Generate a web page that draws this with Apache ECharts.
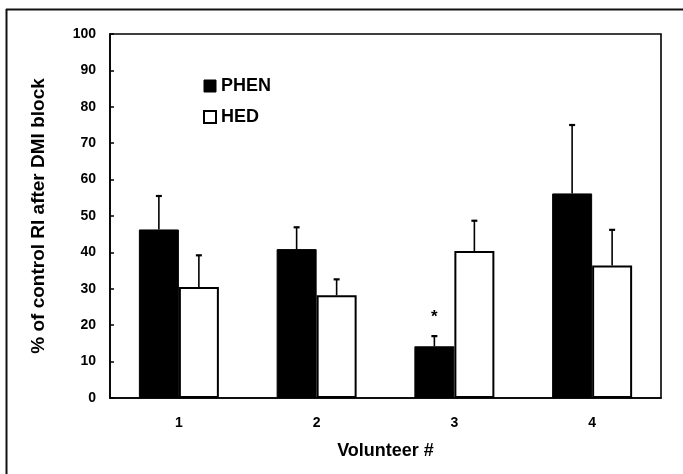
<!DOCTYPE html>
<html>
<head>
<meta charset="utf-8">
<script src="https://cdn.jsdelivr.net/npm/echarts@6/dist/echarts.min.js"></script>
<style>
html,body{margin:0;padding:0;background:#fff;}
#chart{width:683px;height:474px;}
</style>
</head>
<body>
<div id="chart"></div>
<script>
// ---- data ----
const categories = ['1', '2', '3', '4'];
const phenMean = [46.3, 40.9, 14.2, 56.2];
const phenSD   = [9.2, 6.0, 2.8, 18.8];
const hedMean  = [30.5, 28.2, 40.4, 36.4];
const hedSD    = [8.7, 4.4, 8.3, 9.8];
const yTicks   = [0, 10, 20, 30, 40, 50, 60, 70, 80, 90, 100];
// significance marker: category index, value position, text
const starCat = 2;
const starValue = 23;
const starText = '*';

const FONT = '"Liberation Sans", Arial, Helvetica, sans-serif';
const BAR_W = 40;

function errRender(sign) {
  return function (params, api) {
    const i = api.value(0), v = api.value(1), sd = api.value(2);
    const base = api.coord([i, v]);
    const top = api.coord([i, v + sd]);
    const x = base[0] + sign * BAR_W / 2;
    return {
      type: 'group',
      children: [
        { type: 'line', shape: { x1: x, y1: base[1], x2: x, y2: top[1] }, style: { stroke: '#000', lineWidth: 1.6 } },
        { type: 'line', shape: { x1: x - 3, y1: top[1], x2: x + 3, y2: top[1] }, style: { stroke: '#000', lineWidth: 2.2 } }
      ]
    };
  };
}

const chart = echarts.init(document.getElementById('chart'), null, { renderer: 'canvas' });
chart.setOption({
  animation: false,
  backgroundColor: '#fff',
  textStyle: { fontFamily: FONT, color: '#000', fontWeight: 'bold' },
  grid: { left: 110, right: 22, top: 34, bottom: 76, show: true, borderColor: '#000', borderWidth: 1.6, backgroundColor: 'transparent' },
  legend: {
    data: [
      { name: 'PHEN', icon: 'rect', itemStyle: { color: '#000', borderColor: '#000', borderWidth: 1 } },
      { name: 'HED', icon: 'rect', itemStyle: { color: '#fff', borderColor: '#000', borderWidth: 2 } }
    ],
    orient: 'vertical',
    left: 198, top: 72,
    itemWidth: 12, itemHeight: 12, itemGap: 13,
    textStyle: { fontFamily: FONT, fontSize: 18, fontWeight: 'bold', color: '#000' },
    selectedMode: false
  },
  xAxis: {
    type: 'category',
    data: categories,
    name: 'Volunteer #',
    nameLocation: 'middle',
    nameGap: 44,
    nameTextStyle: { fontFamily: FONT, fontSize: 18, fontWeight: 'bold', color: '#000' },
    axisLine: { lineStyle: { color: '#000', width: 1.6 } },
    axisTick: { show: false },
    axisLabel: { fontFamily: FONT, fontSize: 14, fontWeight: 'bold', color: '#000', margin: 18 },
    splitLine: { show: false }
  },
  yAxis: {
    type: 'value',
    min: yTicks[0], max: yTicks[yTicks.length - 1], interval: 10,
    name: '% of control RI after DMI block',
    nameLocation: 'middle',
    nameGap: 62,
    nameTextStyle: { fontFamily: FONT, fontSize: 19, fontWeight: 'bold', color: '#000' },
    axisLine: { show: true, lineStyle: { color: '#000', width: 1.6 } },
    axisTick: { show: true, inside: true, length: 4, lineStyle: { color: '#000', width: 1.5 } },
    axisLabel: { fontFamily: FONT, fontSize: 14, fontWeight: 'bold', color: '#000', margin: 14 },
    splitLine: { show: false }
  },
  series: [
    {
      name: 'PHEN', type: 'bar', data: phenMean, barWidth: BAR_W, barGap: '0%',
      itemStyle: { color: '#000', borderColor: '#000', borderWidth: 1 }
    },
    {
      name: 'HED', type: 'bar', data: hedMean, barWidth: BAR_W, barGap: '0%',
      itemStyle: { color: '#fff', borderColor: '#000', borderWidth: 2 }
    },
    {
      type: 'custom', name: 'PHEN err', renderItem: errRender(-1),
      data: phenMean.map((v, i) => [i, v, phenSD[i]]), encode: { x: 0, y: 1 }, z: 5
    },
    {
      type: 'custom', name: 'HED err', renderItem: errRender(1),
      data: hedMean.map((v, i) => [i, v, hedSD[i]]), encode: { x: 0, y: 1 }, z: 5
    },
    {
      type: 'custom', name: 'star',
      renderItem: function (params, api) {
        const p = api.coord([api.value(0), api.value(1)]);
        return {
          type: 'text',
          style: { text: starText, x: p[0] - BAR_W / 2, y: p[1] - 5, align: 'center', verticalAlign: 'top',
                   font: 'bold 17px ' + FONT, fill: '#000' }
        };
      },
      data: [[starCat, starValue]], encode: { x: 0, y: 1 }, z: 6
    }
  ],
  graphic: [
    { type: 'line', shape: { x1: 6, y1: 9.5, x2: 683, y2: 9.5 }, style: { stroke: '#111', lineWidth: 2 } },
    { type: 'line', shape: { x1: 6.5, y1: 9, x2: 6.5, y2: 474 }, style: { stroke: '#111', lineWidth: 2 } }
  ]
});
</script>
</body>
</html>
